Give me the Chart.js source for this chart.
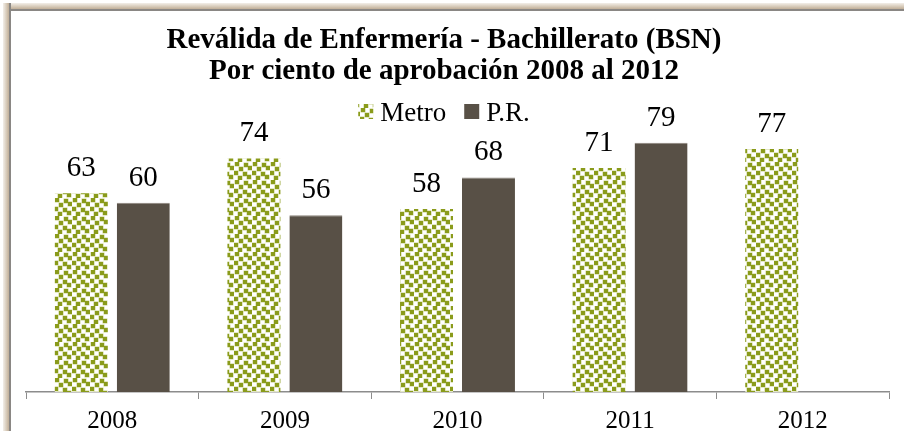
<!DOCTYPE html>
<html>
<head>
<meta charset="utf-8">
<script src="https://cdn.jsdelivr.net/npm/chart.js@4/dist/chart.umd.min.js"></script>
<style>
  html, body { margin: 0; padding: 0; background: #fff; }
  #wrap { position: relative; width: 904px; height: 431px; overflow: hidden; }
  #frameLeft {
    position: absolute; left: 3px; top: 3px; width: 8px; height: 428px;
    background: linear-gradient(to right, #f3efe9, #d9cdbd 40%, #c4b39d 70%, #8a8784 75%, #8a8784);
  }
  #frameTop {
    position: absolute; left: 3px; top: 3px; width: 901px; height: 8px;
    background: linear-gradient(to bottom, #f3efe9, #d9cdbd 40%, #c4b39d 70%, #8a8784 75%, #8a8784);
  }
  canvas { position: absolute; left: 0; top: 0; }
</style>
</head>
<body>
<div id="wrap">
  <canvas id="chart" width="904" height="443"></canvas>
  <div id="frameTop"></div>
  <div id="frameLeft"></div>
</div>
<script>
const years = ['2008', '2009', '2010', '2011', '2012'];
const metro = [63, 74, 58, 71, 77];
const pr = [60, 56, 68, 79, null];
const titleLines = ['Reválida de Enfermería - Bachillerato (BSN)', 'Por ciento de aprobación 2008 al 2012'];

// confetti pattern for the Metro series
function makePattern() {
  const c = document.createElement('canvas');
  c.width = 18;
  c.height = 18;
  const g = c.getContext('2d');
  g.fillStyle = '#ffffff';
  g.fillRect(0, 0, 18, 18);
  g.fillStyle = '#c9d28f';
  const spots = [[1, 0], [10, 1], [5, 5], [14, 4], [0, 9], [9, 10], [4, 14], [13, 13]];
  spots.forEach(p => g.fillRect(p[0] - 0.5, p[1] - 0.5, 5, 5));
  g.fillStyle = '#8a9b1b';
  spots.forEach(p => g.fillRect(p[0], p[1], 4, 4));
  return g.createPattern(c, 'repeat');
}
const metroFill = makePattern();

const valueLabels = {
  id: 'valueLabels',
  afterDatasetsDraw(chart) {
    const ctx = chart.ctx;
    ctx.save();
    ctx.font = '29px "Liberation Serif"';
    ctx.fillStyle = '#000';
    ctx.textAlign = 'center';
    ctx.textBaseline = 'alphabetic';
    chart.data.datasets.forEach((ds, i) => {
      chart.getDatasetMeta(i).data.forEach((bar, j) => {
        if (ds.data[j] == null) return;
        ctx.fillText(ds.data[j], bar.x, bar.y - 17);
      });
    });
    ctx.restore();
  }
};

// title + legend, placed like the original (legend sits tight under the title)
const header = {
  id: 'header',
  afterDraw(chart) {
    const ctx = chart.ctx;
    const cx = 444;
    ctx.save();
    ctx.fillStyle = '#000';
    ctx.textAlign = 'center';
    ctx.textBaseline = 'alphabetic';
    ctx.font = 'bold 29px "Liberation Serif"';
    ctx.fillText(titleLines[0], cx, 48);
    ctx.fillText(titleLines[1], cx, 79);

    ctx.font = '27px "Liberation Serif"';
    ctx.textAlign = 'left';
    const items = chart.data.datasets.map(ds => ({ text: ds.label, fill: ds.backgroundColor }));
    const box = 15, gapText = 7, gapItem = 18;
    let total = 0;
    items.forEach((it, i) => {
      it.w = ctx.measureText(it.text).width;
      total += box + gapText + it.w + (i ? gapItem : 0);
    });
    let x = cx - total / 2;
    items.forEach(it => {
      ctx.fillStyle = it.fill;
      ctx.fillRect(x, 104, box, box);
      ctx.fillStyle = '#000';
      ctx.fillText(it.text, x + box + gapText, 121);
      x += box + gapText + it.w + gapItem;
    });
    ctx.restore();
  }
};

new Chart(document.getElementById('chart'), {
  type: 'bar',
  data: {
    labels: years,
    datasets: [
      {
        label: 'Metro',
        data: metro,
        backgroundColor: metroFill,
        borderWidth: 0,
        categoryPercentage: 0.718,
        barPercentage: 0.855
      },
      {
        label: 'P.R.',
        data: pr,
        backgroundColor: '#585046',
        borderColor: '#8a837b',
        borderWidth: { top: 1, left: 0, right: 0, bottom: 0 },
        categoryPercentage: 0.718,
        barPercentage: 0.855
      }
    ]
  },
  options: {
    responsive: false,
    animation: false,
    layout: { padding: { left: 26, right: 15, top: 108, bottom: 0 } },
    plugins: {
      title: { display: false },
      legend: { display: false },
      tooltip: { enabled: false }
    },
    scales: {
      x: {
        grid: { drawOnChartArea: false, color: '#8c8c8c', tickLength: 7 },
        border: { color: '#8c8c8c', width: 1.5 },
        ticks: { color: '#000', font: { family: '"Liberation Serif"', size: 25 }, padding: 7 }
      },
      y: {
        display: false,
        min: 0,
        max: 90
      }
    }
  },
  plugins: [valueLabels, header]
});
</script>
</body>
</html>
